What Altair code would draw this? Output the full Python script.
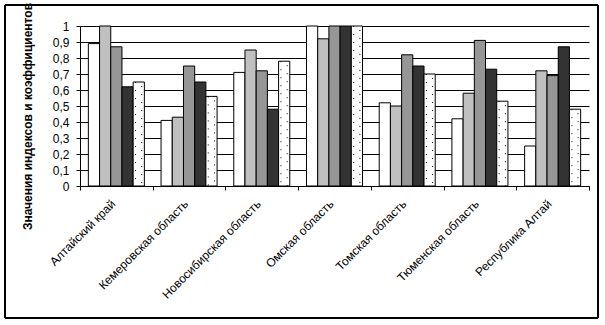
import altair as alt
import pandas as pd

regions = ["Алтайский край", "Кемеровская область", "Новосибирская область",
           "Омская область", "Томская область", "Тюменская область", "Республика Алтай"]
series = ["Ряд1", "Ряд2", "Ряд3", "Ряд4", "Ряд5"]
s1 = [0.89, 0.41, 0.71, 1.00, 0.52, 0.42, 0.25]
s2 = [1.00, 0.43, 0.85, 0.92, 0.50, 0.58, 0.72]
s3 = [0.87, 0.75, 0.72, 1.00, 0.82, 0.91, 0.69]
s4 = [0.62, 0.65, 0.48, 1.00, 0.75, 0.73, 0.87]
s5 = [0.65, 0.56, 0.78, 1.00, 0.70, 0.53, 0.48]
y_ticks = [0, 0.1, 0.2, 0.3, 0.4, 0.5, 0.6, 0.7, 0.8, 0.9, 1.0]
colors = ["#FFFFFF", "#C0C0C0", "#969696", "#333333", "#FFFFFF"]

rows = []
for name, vals in zip(series, [s1, s2, s3, s4, s5]):
    for r, v in zip(regions, vals):
        rows.append({"region": r, "series": name, "value": v})
df = pd.DataFrame(rows)
dotted = df[df["series"] == "Ряд5"]

FONT = "Liberation Sans"

x_axis = alt.Axis(title=None, labelAngle=315, tickBand="extent",
                  grid=False, domainColor="black", tickColor="black",
                  tickSize=4, labelPadding=8, labelOffset=-7, labelFontSize=12,
                  labelFont=FONT, labelColor="black", labelLimit=300,
                  labelAlign="right", labelBaseline="top", zindex=0)
y_axis = alt.Axis(title="Значения индексов и коэффициентов",
                  values=y_ticks,
                  labelExpr="replace(format(datum.value, '.1~f'), '.', ',')",
                  grid=True, gridColor="black", gridWidth=1,
                  domainColor="black", tickColor="black", tickSize=4,
                  labelPadding=7, labelFontSize=12, labelFont=FONT,
                  labelColor="black",
                  titleFont=FONT, titleFontSize=12, titleFontWeight="bold",
                  titleColor="black", titleX=-53, titleY=90,
                  titleAlign="center", titleBaseline="middle", zindex=0)
x_scale = alt.Scale(paddingInner=0, paddingOuter=0)
y_scale = alt.Scale(domain=[0, 1], nice=False)

bars = alt.Chart(df).mark_bar(stroke="black", strokeWidth=1).encode(
    x=alt.X("region:N", sort=regions, scale=x_scale, axis=x_axis),
    xOffset=alt.XOffset("series:N", sort=series,
                        scale=alt.Scale(paddingInner=0, paddingOuter=0.745)),
    y=alt.Y("value:Q", scale=y_scale, axis=y_axis),
    fill=alt.Fill("series:N", sort=series,
                  scale=alt.Scale(domain=series, range=colors), legend=None),
)

step_frac = 11.2 / 72.7
pad_frac = 8.35 / 72.7
center5 = pad_frac + 4.5 * step_frac

dots_a = alt.Chart(dotted).mark_rule(color="black", strokeWidth=1,
                                     strokeDash=[1, 7]).encode(
    x=alt.X("region:N", sort=regions, bandPosition=center5 - 3.2 / 72.7,
            scale=x_scale, axis=x_axis),
    y=alt.Y("value:Q", scale=y_scale, axis=y_axis), y2=alt.datum(0))
dots_b = alt.Chart(dotted).mark_rule(color="black", strokeWidth=1,
                                     strokeDash=[1, 7], strokeDashOffset=4).encode(
    x=alt.X("region:N", sort=regions, bandPosition=center5 + 3.0 / 72.7,
            scale=x_scale, axis=x_axis),
    y=alt.Y("value:Q", scale=y_scale, axis=y_axis), y2=alt.datum(0))

border = alt.Chart(df).mark_rect(fill=None, stroke="black", strokeWidth=1).encode(
    x=alt.value(-75), x2=alt.value(518), y=alt.value(-21), y2=alt.value(292))

chart = alt.layer(bars, dots_a, dots_b, border).properties(
    width=509, height=160,
    autosize=alt.AutoSizeParams(type="none"),
    padding={"left": 80, "top": 26, "right": 16, "bottom": 139},
    background="white",
).configure_view(stroke=None)

chart.save("out.html", embed_options={"renderer": "svg", "actions": False})
